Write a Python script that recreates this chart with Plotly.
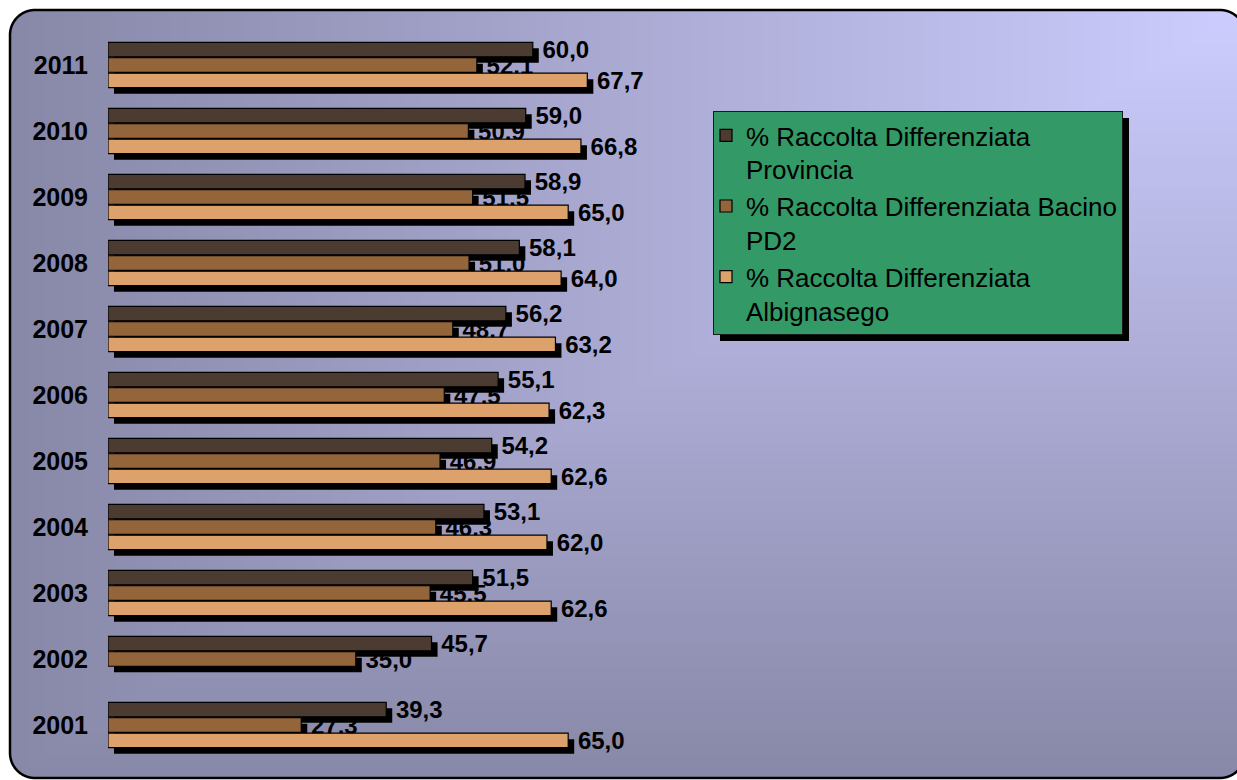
import base64
import struct
import zlib

import numpy as np
import plotly.graph_objects as go

# ---------------- data (top to bottom as in the picture) ----------------
years = ["2011", "2010", "2009", "2008", "2007", "2006", "2005", "2004", "2003", "2002", "2001"]
provincia = [60.0, 59.0, 58.9, 58.1, 56.2, 55.1, 54.2, 53.1, 51.5, 45.7, 39.3]
bacino = [52.1, 50.9, 51.5, 51.0, 48.7, 47.5, 46.9, 46.3, 45.5, 35.0, 27.3]
albignasego = [67.7, 66.8, 65.0, 64.0, 63.2, 62.3, 62.6, 62.0, 62.6, None, 65.0]

series_names = [
    "% Raccolta Differenziata<br>Provincia",
    "% Raccolta Differenziata Bacino<br>PD2",
    "% Raccolta Differenziata<br>Albignasego",
]
series_values = [provincia, bacino, albignasego]
series_colors = ["#4b3b31", "#94643a", "#dda16c"]

W, H = 1237, 780
FONT = "Liberation Sans, Arial, sans-serif"


# ---------------- background: rounded frame with corner gradient ----------------
def make_background():
    yy, xx = np.mgrid[0:H, 0:W].astype(float) + 0.5
    L, R, T, B, rad = 10.0, 1245.0, 10.0, 778.0, 25.0
    dx = np.clip((R - xx) / (R - L), 0, 1)
    dy = np.clip((yy - T) / (B - T), 0, 1)
    t = np.maximum(dx, dy)[..., None]
    light = np.array([205, 205, 255], float)
    dark = np.array([136, 136, 168], float)
    grad = light + (dark - light) * t
    cx, cy = (L + R) / 2, (T + B) / 2
    hx, hy = (R - L) / 2 - rad, (B - T) / 2 - rad
    qx = np.abs(xx - cx) - hx
    qy = np.abs(yy - cy) - hy
    d = np.hypot(np.maximum(qx, 0), np.maximum(qy, 0)) + np.minimum(np.maximum(qx, qy), 0) - rad
    a_in = np.clip(0.5 - d, 0, 1)[..., None]
    img = 255.0 * (1 - a_in) + grad * a_in
    b = np.clip(1.75 - np.abs(d), 0, 1)[..., None]
    img = img * (1 - b)
    img = np.clip(img, 0, 255).astype(np.uint8)
    raw = np.concatenate([np.zeros((H, 1), np.uint8), img.reshape(H, W * 3)], axis=1).tobytes()

    def chunk(tag, data):
        c = struct.pack(">I", len(data)) + tag + data
        return c + struct.pack(">I", zlib.crc32(tag + data) & 0xFFFFFFFF)

    png = b"\x89PNG\r\n\x1a\n"
    png += chunk(b"IHDR", struct.pack(">IIBBBBB", W, H, 8, 2, 0, 0, 0))
    png += chunk(b"IDAT", zlib.compress(raw, 9))
    png += chunk(b"IEND", b"")
    return "data:image/png;base64," + base64.b64encode(png).decode()


def px_x(p):
    return p / W


def px_y(p):
    return 1 - p / H


fig = go.Figure()

# shadows (subplot x/y, offset right and down)
for vals in series_values:
    fig.add_trace(go.Bar(
        y=years, x=vals, orientation="h", xaxis="x", yaxis="y",
        marker=dict(color="black", line=dict(width=0)),
        showlegend=False, hoverinfo="skip",
    ))

# main bars (subplot x2/y2)
for name, vals, col in zip(series_names, series_values, series_colors):
    fig.add_trace(go.Bar(
        y=years, x=vals, orientation="h", xaxis="x2", yaxis="y2", name=name,
        marker=dict(color=col, line=dict(color="black", width=1.2)),
        texttemplate=" %{x:.1f}", textposition="outside", cliponaxis=False,
        constraintext="none",
        outsidetextfont=dict(family=FONT, size=24, color="black", weight="bold"),
    ))

x_left, x_right = 108, 816
y_top, y_bot = 32, 758
off = 6
cat_range = [len(years) - 0.5, -0.5]

axis_hidden = dict(showgrid=False, zeroline=False, showline=False, showticklabels=False, ticks="")

fig.update_layout(
    width=W, height=H,
    margin=dict(l=0, r=0, t=0, b=0),
    paper_bgcolor="white",
    plot_bgcolor="rgba(0,0,0,0)",
    separators=",.",
    barmode="group", bargap=0.3, bargroupgap=0.06,
    font=dict(family=FONT, color="black"),
    xaxis=dict(domain=[px_x(x_left + off), px_x(x_right + off)], range=[0, 100], anchor="y", **axis_hidden),
    yaxis=dict(domain=[px_y(y_bot + off), px_y(y_top + off)], range=cat_range, anchor="x",
               type="category", **axis_hidden),
    xaxis2=dict(domain=[px_x(x_left), px_x(x_right)], range=[0, 100], anchor="y2", **axis_hidden),
    yaxis2=dict(domain=[px_y(y_bot), px_y(y_top)], range=cat_range, anchor="x2", type="category",
                showgrid=False, zeroline=False, showline=False, ticks="",
                ticklabelstandoff=19,
                tickfont=dict(family=FONT, size=25, color="black", weight="bold")),
    legend=dict(
        x=px_x(713), y=px_y(111), xanchor="left", yanchor="top",
        bgcolor="#339966", bordercolor="#1a1a1a", borderwidth=1,
        font=dict(family=FONT, size=26, color="black"),
        valign="top", indentation=-8,
    ),
    images=[dict(source=make_background(), xref="paper", yref="paper", x=0, y=1,
                 sizex=1, sizey=1, xanchor="left", yanchor="top", sizing="stretch", layer="below")],
    shapes=[dict(type="rect", xref="paper", yref="paper",
                 x0=px_x(713 + 7), x1=px_x(1122 + 7), y0=px_y(334 + 7), y1=px_y(111 + 7),
                 fillcolor="black", line=dict(width=0), layer="above")],
)

fig.write_html("out.html", config={"displayModeBar": False},
               post_script="document.body.style.margin='0';")
